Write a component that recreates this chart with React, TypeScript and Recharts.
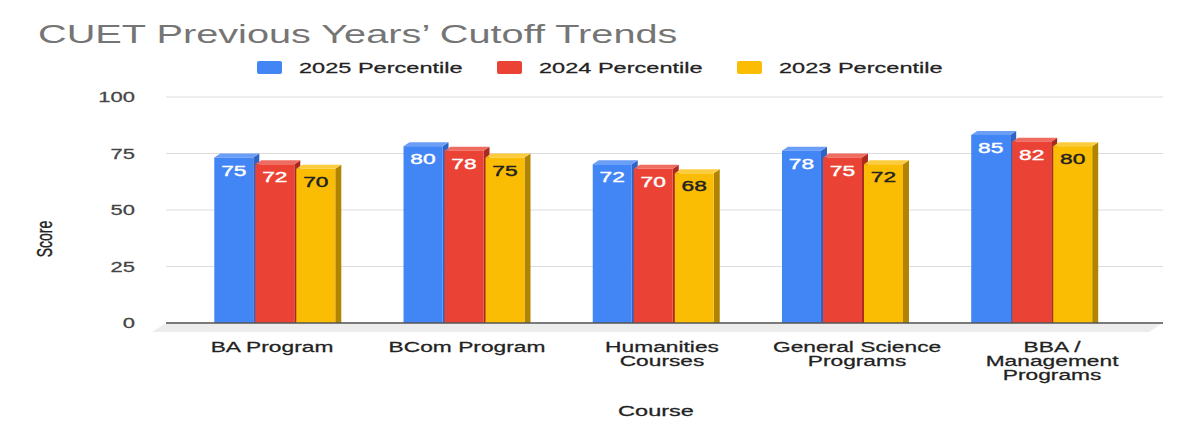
import React from "react";
import { Bar, BarChart, CartesianGrid, ReferenceLine, XAxis, YAxis } from "recharts";

const courses = [
  "BA Program",
  "BCom Program",
  "Humanities Courses",
  "General Science Programs",
  "BBA / Management Programs",
];
// how the tick labels wrap in the reference
const courseLines = [
  ["BA Program"],
  ["BCom Program"],
  ["Humanities", "Courses"],
  ["General Science", "Programs"],
  ["BBA /", "Management", "Programs"],
];
const p2025 = [75, 80, 72, 78, 85];
const p2024 = [72, 78, 70, 75, 82];
const p2023 = [70, 75, 68, 72, 80];
const scoreTicks = [0, 25, 50, 75, 100];

const series = [
  { key: "p2025", name: "2025 Percentile", front: "#4285f4", top: "#6b9ef7", side: "#2f63c4", text: "#ffffff" },
  { key: "p2024", name: "2024 Percentile", front: "#ea4335", top: "#ef6c61", side: "#ab2a20", text: "#ffffff" },
  { key: "p2023", name: "2023 Percentile", front: "#fbbc04", top: "#fccc3f", side: "#b08400", text: "#222222" },
];

const data = courses.map((course, i) => ({
  course,
  p2025: p2025[i],
  p2024: p2024[i],
  p2023: p2023[i],
}));

// the reference picture is stretched sideways, so text is too
const SX = 1.57;
const FONT = "Arial, 'Liberation Sans', Helvetica, sans-serif";

// 3d depth of the columns
const DX = 6;
const DY = 4;
const BAR_GAP = 1;
// columns sit on a slightly narrower back plane than the labels
const AXIS_C0 = 265.7;
const BAR_G0 = 278;
const BAR_K = 0.949;
const LAB_G0 = 272;
const LAB_K = 0.978;

const SText = ({ x, y, size, fill, anchor = "start", weight = 0.25, children }: any) => (
  <text
    transform={`translate(${x},${y}) scale(${SX},1)`}
    fontSize={size}
    fill={fill}
    stroke={fill}
    strokeWidth={weight}
    textAnchor={anchor}
    fontFamily={FONT}
  >
    {children}
  </text>
);

const makeShape = (j: number, s: any) => (props: any) => {
  const { x, y, width, height, payload } = props;
  if (x == null || y == null || !height) return <g />;
  const c = x + width / 2 - (j - 1) * (width + BAR_GAP);
  const g = BAR_G0 + BAR_K * (c - AXIS_C0);
  const fx = x + (g - c) - 3;
  const fw = width - 1;
  const base = y + height;
  const ft = y + DY;
  return (
    <g>
      <polygon
        points={`${fx + fw},${ft} ${fx + fw + DX},${y} ${fx + fw + DX},${base} ${fx + fw},${base + DY}`}
        fill={s.side}
      />
      <polygon
        points={`${fx},${ft} ${fx + fw},${ft} ${fx + fw + DX},${y} ${fx + DX},${y}`}
        fill={s.top}
      />
      <rect x={fx} y={ft} width={fw} height={base + DY - ft} fill={s.front} />
      <SText x={fx + fw / 2} y={ft + 18} size={14.5} fill={s.text} anchor="middle" weight={0.4}>
        {payload[s.key]}
      </SText>
    </g>
  );
};

const Floor = (props: any) => {
  const { x1, y1, x2 } = props;
  if (x1 == null) return <g />;
  return (
    <g>
      <polygon
        points={`${x1},${y1} ${x2},${y1} ${x2 - 14},${y1 + 9} ${x1 - 14},${y1 + 9}`}
        fill="#ececec"
      />
      <line x1={x1} y1={y1} x2={x2} y2={y1} stroke="#555" strokeWidth={1.5} />
    </g>
  );
};

const CourseTick = (props: any) => {
  const { x, y, index } = props;
  const cx = LAB_G0 + LAB_K * (x - AXIS_C0);
  return (
    <g>
      {courseLines[index].map((line, k) => (
        <SText key={k} x={cx} y={y + 29 + k * 14} size={14.5} fill="#222" anchor="middle">
          {line}
        </SText>
      ))}
    </g>
  );
};

const ScoreTick = (props: any) => {
  const { x, y, payload } = props;
  return (
    <SText x={x - 31} y={y + 5} size={14} fill="#444" anchor="end">
      {payload.value}
    </SText>
  );
};

export default function App() {
  return (
    <div style={{ position: "absolute", left: 0, top: 0, width: 1200, height: 440, background: "#fff" }}>
      <BarChart
        width={1200}
        height={440}
        data={data}
        margin={{ top: 97, right: 37, left: 0, bottom: 0 }}
        barSize={40}
        barGap={BAR_GAP}
      >
        <CartesianGrid vertical={false} stroke="#dcdcdc" />
        <XAxis
          dataKey="course"
          height={117}
          axisLine={false}
          tickLine={false}
          tickSize={0}
          tickMargin={0}
          interval={0}
          tick={<CourseTick />}
        />
        <YAxis
          width={166}
          domain={[0, 100]}
          ticks={scoreTicks}
          axisLine={false}
          tickLine={false}
          tickSize={0}
          tickMargin={0}
          tick={<ScoreTick />}
        />
        <ReferenceLine y={0} shape={Floor} />
        {series.map((s, j) => (
          <Bar
            key={s.key}
            dataKey={s.key}
            name={s.name}
            fill={s.front}
            shape={makeShape(j, s)}
            isAnimationActive={false}
          />
        ))}
      </BarChart>
      <svg
        width={1200}
        height={440}
        style={{ position: "absolute", left: 0, top: 0, pointerEvents: "none" }}
      >
        <SText x={38} y={43} size={25.3} fill="#757575" weight={0}>
          CUET Previous Years’ Cutoff Trends
        </SText>
        {series.map((s, i) => (
          <g key={s.key}>
            <rect x={257 + i * 240} y={61} width={25} height={13} rx={2} fill={s.front} />
            <SText x={299 + i * 240} y={73} size={15} fill="#222">
              {s.name}
            </SText>
          </g>
        ))}
        <SText x={656} y={416} size={15} fill="#222" anchor="middle">
          Course
        </SText>
        <text
          transform={`translate(52,239) scale(${SX},1) rotate(-90)`}
          fontSize={14}
          fill="#222"
          stroke="#222"
          strokeWidth={0.25}
          textAnchor="middle"
          fontFamily={FONT}
        >
          Score
        </text>
      </svg>
    </div>
  );
}
